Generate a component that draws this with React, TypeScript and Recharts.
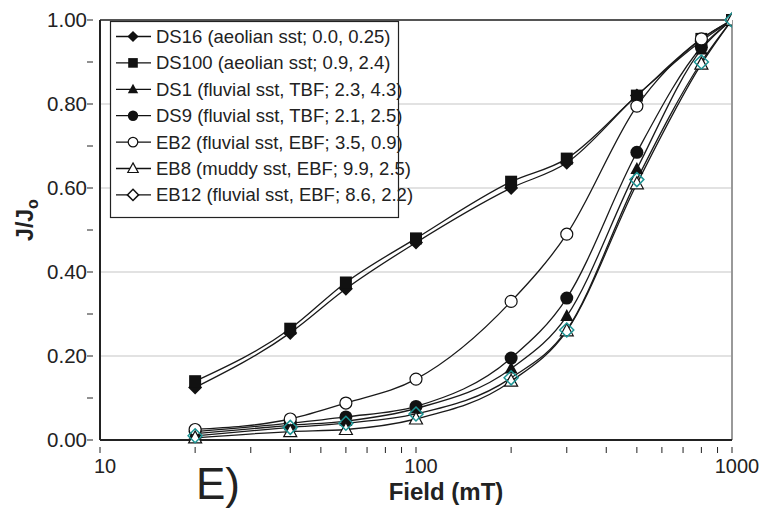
import { LineChart, Line, XAxis, YAxis, ReferenceLine } from 'recharts';

const fields = [20, 40, 60, 100, 200, 300, 500, 800, 1000];

const ds16 = [0.125, 0.255, 0.36, 0.47, 0.6, 0.66, 0.82, 0.95, 1.0];
const ds100 = [0.14, 0.265, 0.375, 0.48, 0.615, 0.67, 0.82, 0.955, 1.0];
const ds1 = [0.015, 0.035, 0.045, 0.075, 0.17, 0.295, 0.645, 0.93, 1.0];
const ds9 = [0.02, 0.04, 0.055, 0.08, 0.195, 0.338, 0.685, 0.935, 1.0];
const eb2 = [0.025, 0.05, 0.088, 0.145, 0.33, 0.49, 0.795, 0.955, 1.0];
const eb8 = [0.005, 0.02, 0.025, 0.05, 0.14, 0.26, 0.61, 0.895, 1.0];
const eb12 = [0.01, 0.03, 0.04, 0.062, 0.148, 0.262, 0.62, 0.9, 1.0];

const xTicks = [10, 20, 30, 40, 50, 60, 70, 80, 90, 100, 200, 300, 400, 500, 600, 700, 800, 900, 1000];
const xLabels = [10, 100, 1000];
const yTicks = [0, 0.1, 0.2, 0.3, 0.4, 0.5, 0.6, 0.7, 0.8, 0.9, 1.0];
const gridLines = [0.2, 0.4, 0.6, 0.8];

const data = fields.map((f, i) => ({
  field: f,
  ds16: ds16[i],
  ds100: ds100[i],
  ds1: ds1[i],
  ds9: ds9[i],
  eb2: eb2[i],
  eb8: eb8[i],
  eb12: eb12[i],
}));

type Kind = 'diamond' | 'square' | 'triangle' | 'circle' | 'circleOpen' | 'triangleOpen' | 'diamondOpen';

const TEAL = '#1c9494';

function Marker({ cx, cy, kind, legend }: { cx: number; cy: number; kind: Kind; legend?: boolean }) {
  const k = legend ? 0.8 : 1;
  const d = 7 * k;
  const tri = `M${cx},${cy - 7 * k}L${cx + 6.5 * k},${cy + 5 * k}L${cx - 6.5 * k},${cy + 5 * k}Z`;
  const dia = `M${cx},${cy - d}L${cx + d},${cy}L${cx},${cy + d}L${cx - d},${cy}Z`;
  switch (kind) {
    case 'diamond':
      return <path d={dia} fill="#111" />;
    case 'square':
      return <rect x={cx - 6 * k} y={cy - 6 * k} width={12 * k} height={12 * k} fill="#111" />;
    case 'triangle':
      return <path d={tri} fill="#111" />;
    case 'circle':
      return <circle cx={cx} cy={cy} r={6.5 * k} fill="#111" />;
    case 'circleOpen':
      return <circle cx={cx} cy={cy} r={6 * k} fill="#fff" stroke="#111" strokeWidth={1.2} />;
    case 'triangleOpen':
      return <path d={tri} fill="#fff" stroke="#111" strokeWidth={1.2} />;
    case 'diamondOpen':
      return (
        <path d={dia} fill={legend ? '#fff' : 'none'} stroke={legend ? '#111' : TEAL} strokeWidth={1.5} />
      );
  }
}

const series: { key: string; kind: Kind; label: string }[] = [
  { key: 'ds16', kind: 'diamond', label: 'DS16 (aeolian sst; 0.0, 0.25)' },
  { key: 'ds100', kind: 'square', label: 'DS100 (aeolian sst; 0.9, 2.4)' },
  { key: 'ds1', kind: 'triangle', label: 'DS1 (fluvial sst, TBF; 2.3, 4.3)' },
  { key: 'ds9', kind: 'circle', label: 'DS9 (fluvial sst, TBF; 2.1, 2.5)' },
  { key: 'eb2', kind: 'circleOpen', label: 'EB2 (fluvial sst, EBF; 3.5, 0.9)' },
  { key: 'eb8', kind: 'triangleOpen', label: 'EB8 (muddy sst, EBF; 9.9, 2.5)' },
  { key: 'eb12', kind: 'diamondOpen', label: 'EB12 (fluvial sst, EBF; 8.6, 2.2)' },
];

const FONT = 'Liberation Sans, Arial, sans-serif';

function XTick(props: any) {
  const { x, y, payload } = props;
  const v = payload.value;
  return (
    <g>
      <line x1={x} y1={y - 1} x2={x} y2={y + 5} stroke="#222" strokeWidth={1} />
      {xLabels.includes(v) && (
        <text x={x + 5} y={y + 25} textAnchor="middle" fontSize={20} fill="#222" fontFamily={FONT}>
          {v}
        </text>
      )}
    </g>
  );
}

function YTick(props: any) {
  const { x, y, payload } = props;
  const v = payload.value;
  const major = Math.round(v * 10) % 2 === 0;
  return (
    <g>
      <line x1={x + 1} y1={y} x2={x - 5} y2={y} stroke="#222" strokeWidth={1} />
      {major && (
        <text x={x - 5} y={y + 7} textAnchor="end" fontSize={20.5} fill="#222" fontFamily={FONT}>
          {v.toFixed(2)}
        </text>
      )}
    </g>
  );
}

export default function App() {
  return (
    <div style={{ position: 'absolute', left: 0, top: 0, width: 761, height: 508, background: '#fff', fontFamily: FONT }}>
      <LineChart width={761} height={508} data={data} margin={{ top: 20, right: 29, bottom: 0, left: 0 }}>
        {gridLines.map((g) => (
          <ReferenceLine key={g} y={g} stroke="#d8d8d8" strokeWidth={1.5} />
        ))}
        <ReferenceLine y={1} stroke="#555" strokeWidth={2} />
        <ReferenceLine x={1000} stroke="#999" strokeWidth={2} />
        <XAxis
          dataKey="field"
          type="number"
          scale="log"
          domain={[10, 1000]}
          ticks={xTicks}
          interval={0}
          height={68}
          tickLine={false}
          tick={<XTick />}
          axisLine={{ stroke: '#222', strokeWidth: 2 }}
          allowDataOverflow
        />
        <YAxis
          type="number"
          domain={[0, 1]}
          ticks={yTicks}
          interval={0}
          width={100}
          tickLine={false}
          tick={<YTick />}
          axisLine={{ stroke: '#222', strokeWidth: 2 }}
        />
        {series.map((s) => (
          <Line
            key={s.key}
            dataKey={s.key}
            type="monotone"
            stroke="#1a1a1a"
            strokeWidth={1.3}
            isAnimationActive={false}
            dot={(p: any) => <Marker key={`${s.key}-${p.index}`} cx={p.cx} cy={p.cy} kind={s.kind} />}
            activeDot={false}
          />
        ))}
      </LineChart>

      <svg style={{ position: 'absolute', left: 0, top: 0, pointerEvents: 'none' }} width={761} height={508}>
        <text
          transform="translate(33,220) rotate(-90)"
          textAnchor="middle"
          fontSize={23}
          fontWeight="bold"
          fill="#222"
          fontFamily={FONT}
        >
          J/J<tspan fontSize={16} dy={5}>o</tspan>
        </text>
        <text x={446} y={500} textAnchor="middle" fontSize={24} fontWeight="bold" fill="#222" fontFamily={FONT}>
          Field (mT)
        </text>
        <text x={196} y={499} fontSize={44} fill="#222" fontFamily={FONT}>
          E)
        </text>
        <g>
          <rect x={110.5} y={21.5} width={288} height={196} fill="#fff" stroke="#222" strokeWidth={1.2} />
          {series.map((s, i) => {
            const cy = 36.5 + i * 26.4;
            return (
              <g key={s.key}>
                <line x1={116} x2={151} y1={cy} y2={cy} stroke="#111" strokeWidth={1.3} />
                <Marker cx={133} cy={cy} kind={s.kind} legend />
                <text x={156} y={cy + 6.5} fontSize={18.5} fill="#222" fontFamily={FONT}>
                  {s.label}
                </text>
              </g>
            );
          })}
        </g>
      </svg>
    </div>
  );
}
